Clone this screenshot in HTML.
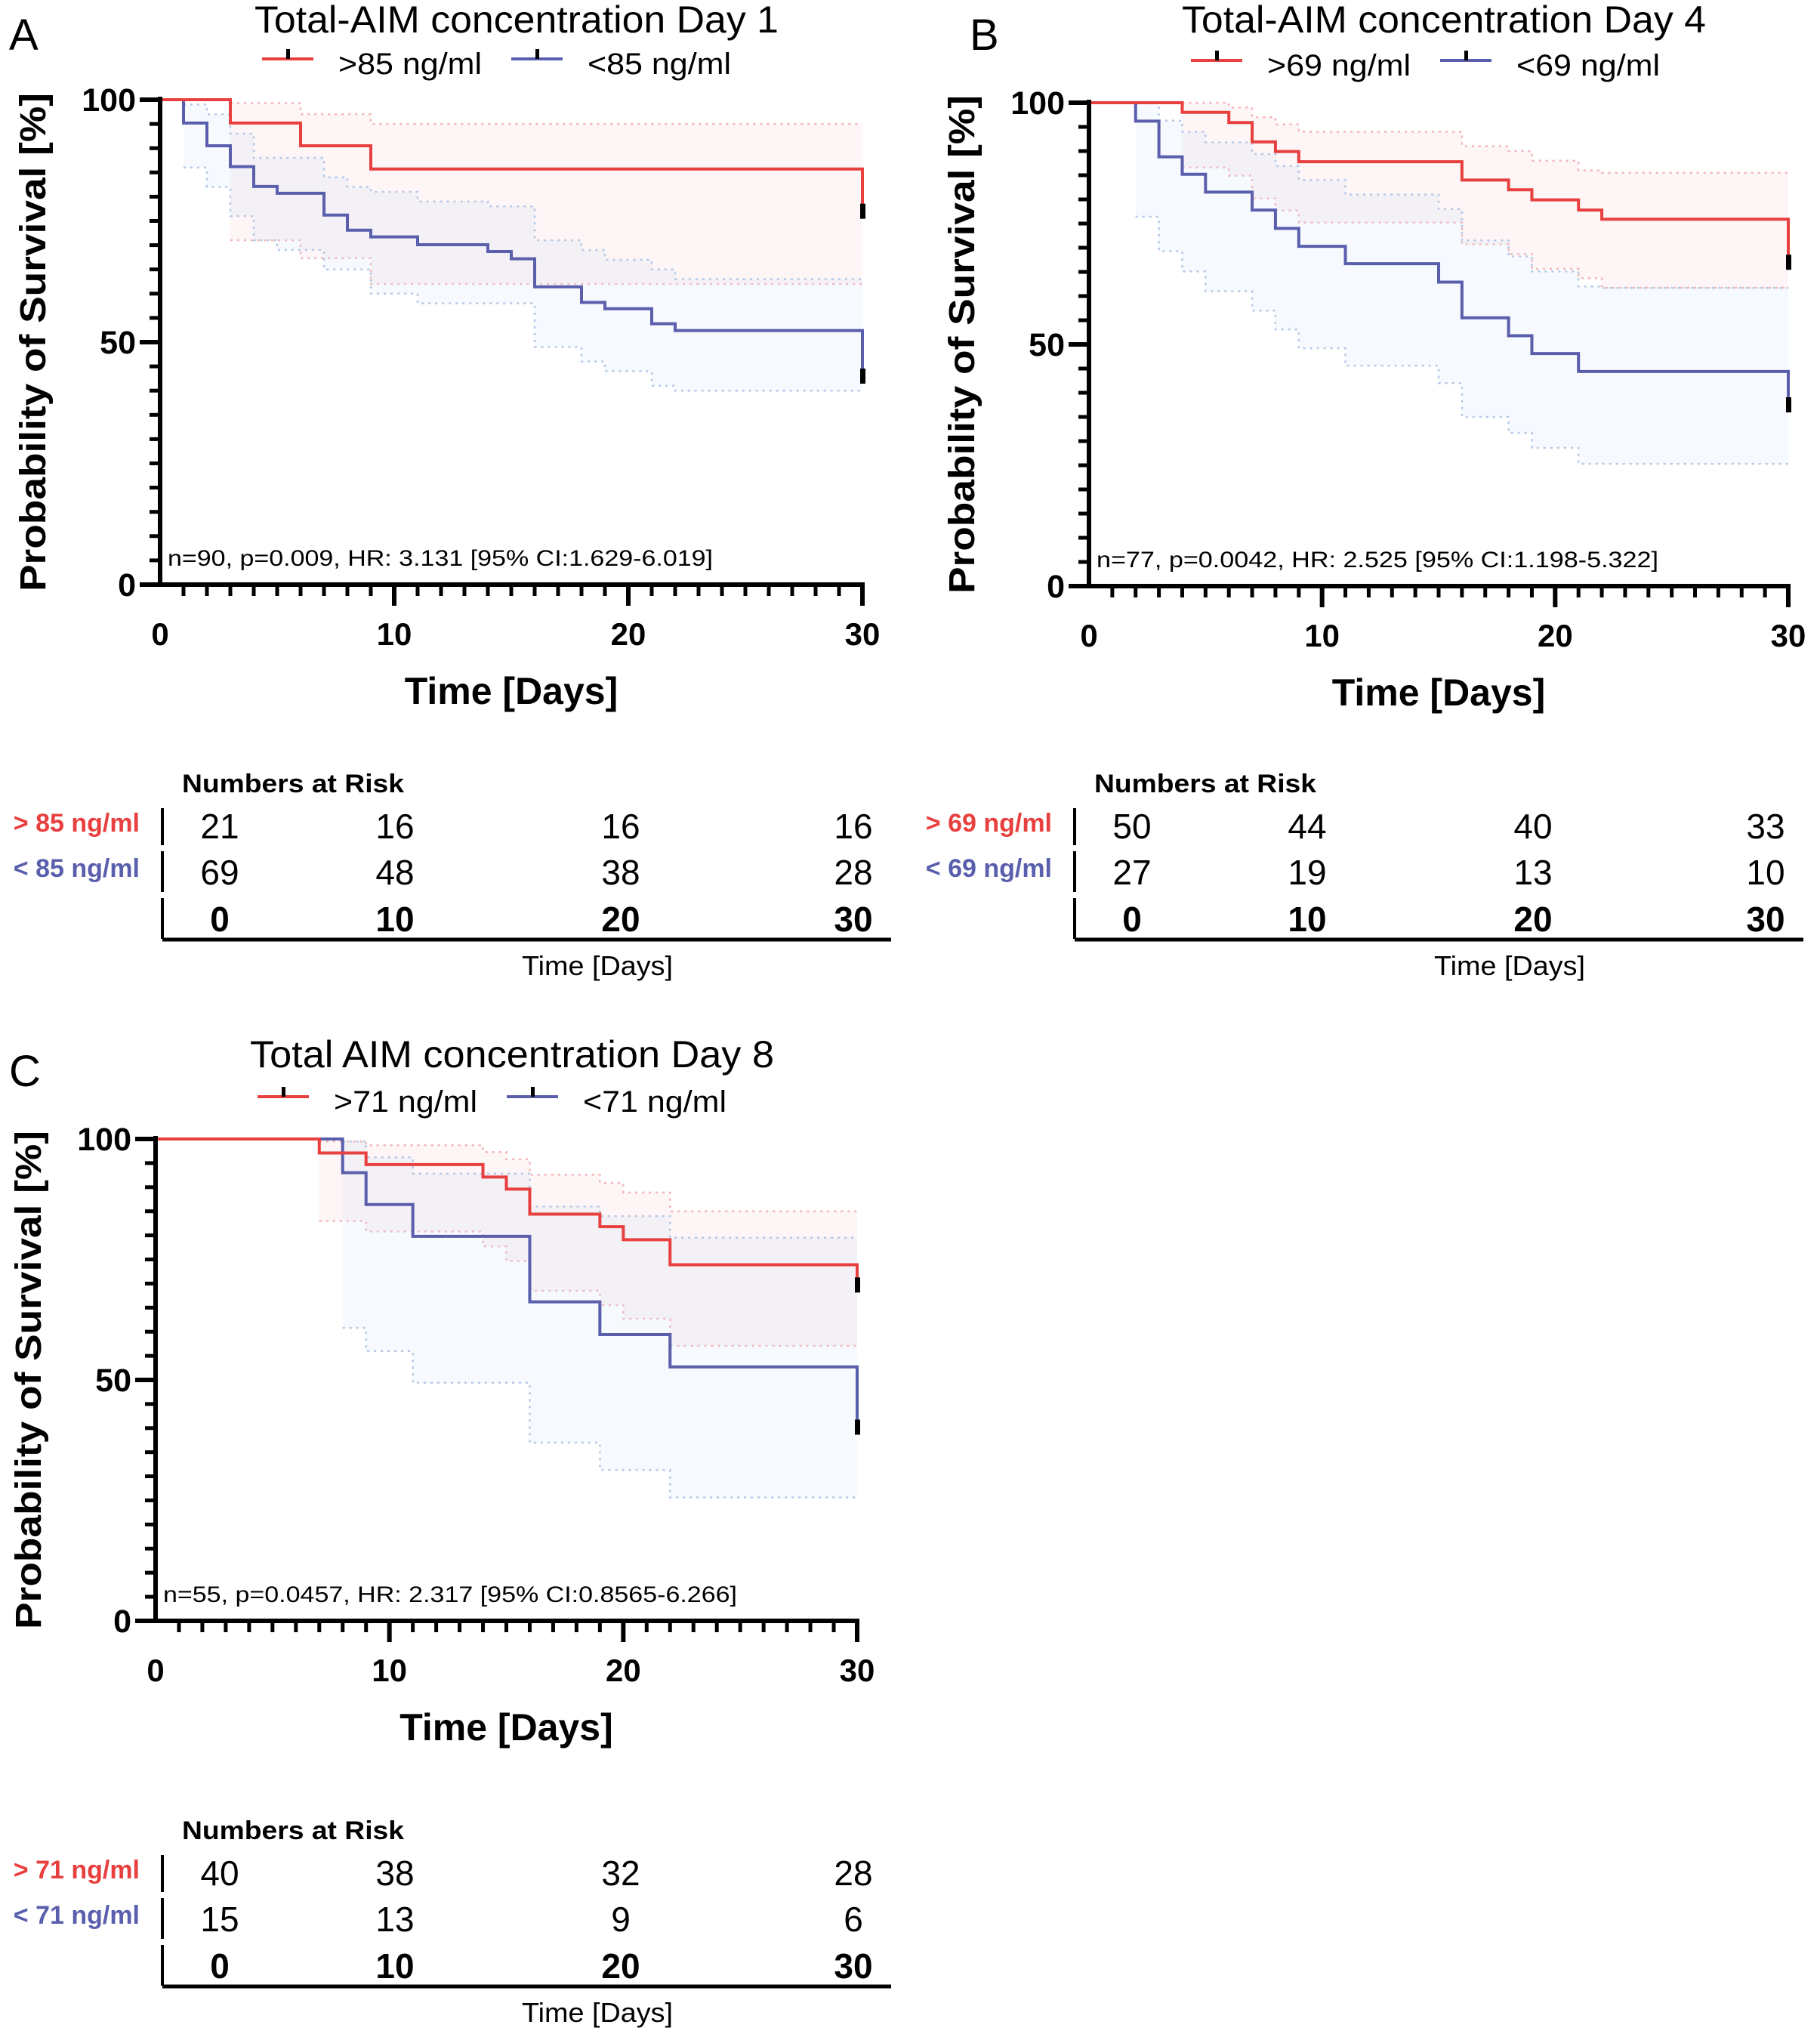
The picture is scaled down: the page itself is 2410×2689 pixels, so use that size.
<!DOCTYPE html>
<html><head><meta charset="utf-8"><style>
html,body{margin:0;padding:0;background:#fff}
svg{display:block}
text{font-family:"Liberation Sans",sans-serif}
</style></head><body>
<svg id="fig" width="2410" height="2689" viewBox="0 0 2410 2689" xmlns="http://www.w3.org/2000/svg"></svg>
<script>
// ---------- Panel A (Day 1) ----------
const A_redT=[0,3,6,9,30];
const A_redS=[100,95.2,90.5,85.7,77];
const A_redCIT=[3,6,9];
const A_redUp=[99.3,97,95];
const A_redLo=[71,67.3,62];
const A_blueT=[0,1,2,3,4,5,7,8,9,11,14,15,16,18,19,21,22,30];
const A_blueS=[100,95.2,90.5,86.2,82.1,80.7,76.2,73.1,71.7,70.1,68.7,67.2,61.4,58.2,56.9,53.8,52.4,43];
const A_blueCIT=[1,2,3,4,5,7,8,9,11,14,16,18,19,21,22];
const A_blueUp=[99,97,93,88,88,84,82,81,79,78,71,69,67,65,63];
const A_blueLo=[86,82,76,71,69,65,65,60,58,58,49,46,44,41,40];
const A_riskHigh=["21","16","16","16"];
const A_riskLow=["69","48","38","28"];
// ---------- Panel B (Day 4) ----------
const B_redT=[0,4,6,7,8,9,16,18,19,21,22,30];
const B_redS=[100,98,95.9,91.9,89.9,87.8,84,82,79.9,77.8,75.9,67];
const B_redCIT=[4,6,7,8,9,16,18,19,21,22];
const B_redUp=[100,99,97,95.5,94,91,90,88,86,85.5];
const B_redLo=[86.6,84.9,80.2,77.7,75.2,70.7,68.7,65.6,63.7,61.7];
const B_blueT=[0,2,3,4,5,7,8,9,11,15,16,18,19,21,30];
const B_blueS=[100,96.2,88.8,85.2,81.5,77.8,74,70.3,66.7,62.9,55.5,51.8,48.1,44.4,37.5];
const B_blueCIT=[2,3,4,5,7,8,9,11,15,16,18,19,21,22];
const B_blueUp=[100,96.3,94,91.8,89.4,86.9,84,81,78,71.5,68.2,65.1,62,61.7];
const B_blueLo=[76.4,69.3,65.1,61,57,53.1,49.2,45.6,42,35,31.7,28.6,25.3,25.3];
const B_riskHigh=["50","44","40","33"];
const B_riskLow=["27","19","13","10"];
// ---------- Panel C (Day 8) ----------
const C_redT=[0,7,9,14,15,16,19,20,22,30];
const C_redS=[100,97.1,94.7,92.1,89.6,84.4,81.8,79.1,73.9,69.7];
const C_redCIT=[7,9,14,15,16,19,20,22];
const C_redUp=[99.5,98.7,97.3,95.8,92.6,90.9,88.9,85];
const C_redLo=[83,80.8,77.7,74.7,68.5,65.5,62.7,57.1];
const C_blueT=[0,8,9,11,16,19,22,30];
const C_blueS=[100,93,86.4,79.8,66.2,59.4,52.7,40.2];
const C_blueCIT=[8,9,11,16,19,22];
const C_blueUp=[99.5,96.2,92.8,86,84,79.5];
const C_blueLo=[60.8,56,49.4,37,31.3,25.6];
const C_riskHigh=["40","38","32","28"];
const C_riskLow=["15","13","9","6"];
const riskTimes=["0","10","20","30"];
const yTickLabels=["0","50","100"];
const xTickLabels=["0","10","20","30"];

const NS="http://www.w3.org/2000/svg";
const svg=document.getElementById('fig');
function mk(tag,attrs,parent,txt){const e=document.createElementNS(NS,tag);for(const k in attrs)e.setAttribute(k,attrs[k]);if(txt!==undefined)e.textContent=txt;(parent||svg).appendChild(e);return e;}

const RED="#e8403f",BLUE="#5a5fad";

function panel(p){
  const g=mk('g',{});
  
  
  const X=d=>p.x0+(p.x1-p.x0)*d/30;
  const Y=v=>p.y0+(p.y100-p.y0)*v/100;
  const L=mk('text',{x:p.lx,y:p.ly,'font-size':58,fill:'#000'},g,p.id);
  
  
  const t=mk('text',{x:p.tx,y:p.ty,'font-size':50,'text-anchor':'middle',fill:'#000',textLength:p.tw,lengthAdjust:'spacingAndGlyphs'},g,p.title);
  
  
  [[p.legR,RED,p.legRx],[p.legB,BLUE,p.legBx]].forEach(([lab,col,lx],i)=>{
    const lg=mk('g',{},g);
    
    
    mk('line',{x1:lx,y1:p.legY,x2:lx+68,y2:p.legY,stroke:col,'stroke-width':4},lg);
    mk('rect',{x:lx+32,y:p.legY-13,width:5,height:13,fill:'#000'},lg);
    mk('text',{x:lx+101,y:p.legY+20,'font-size':40,fill:'#000',textLength:190,lengthAdjust:'spacingAndGlyphs'},lg,lab);
  });
  function band(T,U,Lo,fill,stroke,name){
    const bg=mk('g',{},g);
    
    
    let up=[],lo=[];
    for(let i=0;i<T.length;i++){
      const ta=T[i],tb=i+1<T.length?T[i+1]:30;
      up.push([X(ta),Y(U[i])],[X(tb),Y(U[i])]);
      lo.push([X(ta),Y(Lo[i])],[X(tb),Y(Lo[i])]);
    }
    const pts=up.concat(lo.slice().reverse()).map(q=>q.join(',')).join(' ');
    mk('polygon',{points:pts,fill:fill,'fill-opacity':0.22,stroke:'none'},bg);
    const pl=a=>a.map(q=>q.join(',')).join(' ');
    mk('polyline',{points:pl(up),fill:'none',stroke:stroke,'stroke-width':2.5,'stroke-dasharray':'3,6'},bg);
    mk('polyline',{points:pl(lo),fill:'none',stroke:stroke,'stroke-width':2.5,'stroke-dasharray':'3,6'},bg);
  }
  band(p.rCT,p.rUp,p.rLo,'#f8d2d6','#f4b3b6','ci-band-high');
  band(p.bCT,p.bUp,p.bLo,'#d6e2f4','#b3c8e6','ci-band-low');
  function curve(T,S,col,name){
    let d='M'+X(T[0])+','+Y(S[0]);
    for(let i=1;i<T.length;i++){d+=' H'+X(T[i])+' V'+Y(S[i]);}
    const c=mk('path',{d:d,fill:'none',stroke:col,'stroke-width':4},g);
    
    
    const m=mk('rect',{x:X(30)-3,y:Y(S[S.length-1])-10,width:7,height:20,fill:'#000'},g);
    
    
  }
  curve(p.bT,p.bS,BLUE,'survival-curve-low');
  curve(p.rT,p.rS,RED,'survival-curve-high');
  const ax=mk('g',{},g);
  
  
  mk('line',{x1:p.x0,y1:Y(100)-4,x2:p.x0,y2:p.y0+2,stroke:'#000','stroke-width':6},ax);
  mk('line',{x1:p.x0-3,y1:p.y0,x2:p.x1+3,y2:p.y0,stroke:'#000','stroke-width':6},ax);
  for(let v=0;v<=100;v+=5){const maj=v%50==0;mk('line',{x1:p.x0-(maj?27:14),y1:Y(v),x2:p.x0,y2:Y(v),stroke:'#000','stroke-width':maj?6:5},ax);}
  for(let d=1;d<=30;d++){const maj=d%10==0;mk('line',{x1:X(d),y1:p.y0,x2:X(d),y2:p.y0+(maj?28:15),stroke:'#000','stroke-width':maj?6:5},ax);}
  yTickLabels.forEach(s=>{const e=mk('text',{x:p.x0-32,y:Y(+s)+15,'font-size':43,'font-weight':'bold','text-anchor':'end'},ax,s);
    });
  xTickLabels.forEach(s=>{const e=mk('text',{x:X(+s),y:p.y0+80,'font-size':42,'font-weight':'bold','text-anchor':'middle'},ax,s);
    });
  const yt=mk('text',{x:0,y:0,'font-size':48,'font-weight':'bold','text-anchor':'middle',transform:`translate(${p.x0-152},${(p.y0+Y(100))/2}) rotate(-90)`,textLength:660,lengthAdjust:'spacingAndGlyphs'},g,'Probability of Survival [%]');
  
  const xt=mk('text',{x:(p.x0+p.x1)/2,y:p.y0+158,'font-size':50,'font-weight':'bold','text-anchor':'middle'},g,'Time [Days]');
  
  const an=mk('text',{x:p.x0+10,y:p.y0-25,'font-size':30,textLength:p.annW,lengthAdjust:'spacingAndGlyphs'},g,p.ann);
  
  const rt=mk('g',{transform:`translate(${p.rx},${p.ry})`},g);
  
  
  mk('text',{x:26,y:-134,'font-size':34,'font-weight':'bold',textLength:294,lengthAdjust:'spacingAndGlyphs'},rt,'Numbers at Risk');
  mk('text',{x:-30,y:-82,'font-size':34,'font-weight':'bold','text-anchor':'end',fill:RED},rt,p.legR.replace('>','> '));
  mk('text',{x:-30,y:-22,'font-size':34,'font-weight':'bold','text-anchor':'end',fill:BLUE},rt,p.legB.replace('<','< '));
  mk('line',{x1:0,y1:-113,x2:0,y2:-64,stroke:'#000','stroke-width':4},rt);
  mk('line',{x1:0,y1:-56,x2:0,y2:-2,stroke:'#000','stroke-width':4},rt);
  mk('line',{x1:0,y1:6,x2:0,y2:60,stroke:'#000','stroke-width':4},rt);
  mk('line',{x1:0,y1:61,x2:965,y2:61,stroke:'#000','stroke-width':5},rt);
  const cols=[76,308,607,915];
  p.hi.forEach((v,i)=>mk('text',{x:cols[i],y:-73,'font-size':46,'text-anchor':'middle'},rt,v));
  p.lo.forEach((v,i)=>mk('text',{x:cols[i],y:-12,'font-size':46,'text-anchor':'middle'},rt,v));
  riskTimes.forEach((v,i)=>mk('text',{x:cols[i],y:50,'font-size':46,'font-weight':'bold','text-anchor':'middle'},rt,v));
  mk('text',{x:576,y:108,'font-size':36,'text-anchor':'middle',textLength:200,lengthAdjust:'spacingAndGlyphs'},rt,'Time  [Days]');
}

panel({id:'A',x0:212,x1:1142,y0:774,y100:132,lx:12,ly:66,tx:684,ty:43,tw:694,title:'Total-AIM concentration Day 1',
  legR:'>85 ng/ml',legB:'<85 ng/ml',legRx:347,legBx:677,legY:78,
  rT:A_redT,rS:A_redS,rCT:A_redCIT,rUp:A_redUp,rLo:A_redLo,bT:A_blueT,bS:A_blueS,bCT:A_blueCIT,bUp:A_blueUp,bLo:A_blueLo,
  ann:'n=90, p=0.009, HR: 3.131 [95% CI:1.629-6.019]',annW:722,rx:215,ry:1183,hi:A_riskHigh,lo:A_riskLow});
panel({id:'B',x0:1442,x1:2368,y0:776,y100:136,lx:1284,ly:66,tx:1912,ty:43,tw:694,title:'Total-AIM concentration Day 4',
  legR:'>69 ng/ml',legB:'<69 ng/ml',legRx:1577,legBx:1907,legY:80,
  rT:B_redT,rS:B_redS,rCT:B_redCIT,rUp:B_redUp,rLo:B_redLo,bT:B_blueT,bS:B_blueS,bCT:B_blueCIT,bUp:B_blueUp,bLo:B_blueLo,
  ann:'n=77, p=0.0042, HR: 2.525 [95% CI:1.198-5.322]',annW:744,rx:1423,ry:1183,hi:B_riskHigh,lo:B_riskLow});
panel({id:'C',x0:206,x1:1135,y0:2146,y100:1508,lx:12,ly:1438,tx:678,ty:1413,tw:694,title:'Total AIM concentration Day 8',
  legR:'>71 ng/ml',legB:'<71 ng/ml',legRx:341,legBx:671,legY:1452,
  rT:C_redT,rS:C_redS,rCT:C_redCIT,rUp:C_redUp,rLo:C_redLo,bT:C_blueT,bS:C_blueS,bCT:C_blueCIT,bUp:C_blueUp,bLo:C_blueLo,
  ann:'n=55, p=0.0457, HR: 2.317 [95% CI:0.8565-6.266]',annW:760,rx:215,ry:2569,hi:C_riskHigh,lo:C_riskLow});
</script>
</body></html>
